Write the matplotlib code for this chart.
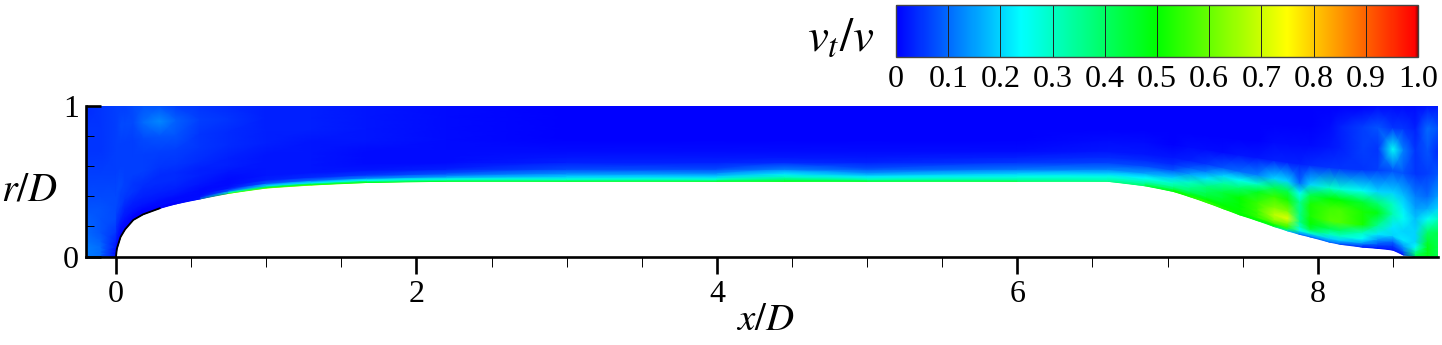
import numpy as np
import matplotlib
matplotlib.use('Agg')
import matplotlib.pyplot as plt
from matplotlib.colors import LinearSegmentedColormap, Normalize
from matplotlib.cm import ScalarMappable

plt.rcParams['font.family'] = ['Liberation Serif', 'DejaVu Serif']
plt.rcParams['mathtext.fontset'] = 'stix'

# wall shape
x_wall = [-0.2, -0.1, 0.0, 0.005, 0.03, 0.06, 0.115, 0.18, 0.29, 0.4, 0.56, 0.75, 1.0, 1.3, 1.67, 2.2, 3.0, 4.0, 4.45, 5.0, 6.0, 6.6,
          6.85, 7.04, 7.15, 7.26, 7.37, 7.48, 7.6, 7.71, 7.8, 7.88, 7.95, 8.08, 8.15, 8.3, 8.4, 8.5, 8.57, 8.65, 8.73, 8.8]
r_wall = [0.0, 0.0, 0.0, 0.05, 0.13, 0.18, 0.243, 0.28, 0.32, 0.35, 0.383, 0.42, 0.455, 0.475, 0.492, 0.5, 0.5, 0.5, 0.5, 0.5, 0.5, 0.5,
          0.47, 0.432, 0.397, 0.359, 0.318, 0.277, 0.238, 0.199, 0.17, 0.147, 0.13, 0.095, 0.081, 0.062, 0.054, 0.043, 0.01, 0.0, 0.0, 0.0]
# fraction of the way from wall to r/D = 1
eta = [0, 0.01, 0.03, 0.06, 0.1, 0.16, 0.25, 0.32, 0.4, 0.55, 0.7, 0.85, 1.0]

# vt/v, one row per x_wall station, wall to top
vt = [
    [.12, .12, .12, .12, .11, .10, .09, .08, .07, .06, .05, .05, .04],
    [.10, .10, .10, .10, .09, .08, .08, .08, .07, .06, .05, .05, .05],
    [.01, .01, .01, .02, .03, .05, .07, .07, .07, .06, .06, .06, .06],
    [.00, .00, .01, .02, .03, .04, .06, .07, .07, .06, .06, .06, .06],
    [.00, .00, .01, .01, .02, .04, .06, .06, .07, .06, .06, .07, .06],
    [.00, .00, .01, .01, .02, .03, .05, .06, .06, .06, .06, .07, .06],
    [.00, .00, .00, .01, .02, .03, .05, .05, .06, .06, .06, .07, .07],
    [.00, .00, .00, .01, .02, .03, .04, .05, .06, .06, .07, .10, .08],
    [.00, .00, .01, .01, .02, .03, .04, .04, .05, .06, .08, .13, .08],
    [.00, .00, .01, .01, .02, .03, .04, .04, .05, .06, .08, .09, .06],
    [.02, .02, .01, .01, .01, .02, .03, .03, .04, .05, .05, .06, .05],
    [.55, .30, .08, .02, .01, .01, .02, .03, .03, .04, .04, .05, .04],
    [.60, .45, .20, .08, .03, .02, .02, .02, .02, .03, .03, .03, .03],
    [.60, .45, .22, .10, .04, .02, .02, .02, .02, .02, .03, .03, .03],
    [.50, .42, .25, .12, .05, .02, .01, .01, .01, .02, .02, .02, .02],
    [.45, .38, .27, .15, .08, .03, .01, .01, .01, .01, .01, .01, .01],
    [.45, .38, .28, .20, .14, .07, .03, .02, .01, .00, .00, .00, .00],
    [.45, .38, .28, .20, .14, .07, .03, .02, .01, .00, .00, .00, .00],
    [.48, .45, .38, .30, .22, .12, .04, .02, .01, .00, .00, .00, .00],
    [.45, .40, .30, .22, .15, .08, .03, .02, .01, .00, .00, .00, .00],
    [.42, .38, .32, .27, .20, .11, .05, .03, .01, .00, .00, .00, .00],
    [.35, .32, .30, .27, .20, .12, .06, .04, .02, .01, .00, .00, .00],
    [.40, .40, .35, .30, .24, .15, .07, .04, .02, .01, .00, .00, .00],
    [.50, .50, .42, .35, .30, .20, .08, .04, .02, .00, .00, .00, .00],
    [.52, .52, .46, .40, .36, .30, .15, .08, .03, .01, .00, .00, .00],
    [.55, .55, .50, .45, .42, .38, .22, .12, .05, .01, .00, .00, .00],
    [.52, .52, .50, .48, .46, .44, .33, .20, .08, .01, .00, .00, .00],
    [.50, .50, .50, .50, .50, .50, .38, .25, .10, .02, .00, .00, .00],
    [.48, .50, .55, .55, .56, .55, .47, .30, .12, .02, .00, .00, .00],
    [.45, .50, .58, .65, .68, .62, .55, .42, .20, .03, .01, .00, .00],
    [.20, .40, .55, .62, .72, .62, .52, .42, .20, .03, .01, .00, .00],
    [.10, .15, .25, .30, .36, .36, .35, .25, .10, .03, .01, .00, .00],
    [.10, .15, .30, .45, .50, .52, .52, .42, .20, .04, .01, .00, .00],
    [.10, .14, .20, .30, .42, .58, .56, .50, .30, .05, .02, .01, .00],
    [.08, .12, .20, .30, .40, .58, .57, .50, .28, .05, .03, .03, .00],
    [.03, .06, .15, .24, .30, .52, .52, .45, .25, .05, .06, .06, .00],
    [.02, .04, .08, .14, .22, .35, .48, .38, .20, .06, .05, .08, .01],
    [.02, .03, .05, .10, .20, .22, .32, .30, .20, .08, .25, .05, .01],
    [.02, .05, .10, .15, .22, .20, .25, .22, .18, .08, .12, .05, .01],
    [.40, .40, .35, .25, .20, .20, .18, .15, .12, .05, .05, .03, .01],
    [.48, .48, .48, .48, .45, .40, .25, .16, .10, .06, .08, .10, .02],
    [.42, .42, .42, .42, .42, .42, .30, .20, .15, .08, .04, .08, .02],
]

x_major = [0, 2, 4, 6, 8]
x_minor = [0.5, 1, 1.5, 2.5, 3, 3.5, 4.5, 5, 5.5, 6.5, 7, 7.5, 8.5]
r_major = [0, 1]
r_minor = [0.2, 0.4, 0.6, 0.8]
bar_ticks = [0, 0.1, 0.2, 0.3, 0.4, 0.5, 0.6, 0.7, 0.8, 0.9, 1.0]
bar_labels = ['0', '0.1', '0.2', '0.3', '0.4', '0.5', '0.6', '0.7', '0.8', '0.9', '1.0']

W, H = 1442, 345
cmap = LinearSegmentedColormap.from_list('rainbow_small', [
    (0, '#0000ff'), (0.24, '#00ffff'), (0.5, '#00ff00'), (0.75, '#ffff00'), (0.995, '#ff0000'), (1, '#a00000')], N=512)
norm = Normalize(0, 1)

fig = plt.figure(figsize=(W / 100, H / 100), dpi=100)
ax = fig.add_axes([86 / W, 1 - 256.5 / H, (1438 - 86) / W, 150.5 / H])

xw = np.array(x_wall)
rw = np.array(r_wall)
e = np.array(eta)
X = np.repeat(xw[:, None], len(e), axis=1)
R = rw[:, None] + e[None, :] * (1 - rw[:, None])
ax.pcolormesh(X, R, np.array(vt), cmap=cmap, norm=norm, shading='gouraud', rasterized=True)
ax.plot(xw[2:9], rw[2:9], color='k', lw=1.3)

ax.set_xlim(-0.2, 8.8)
ax.set_ylim(0, 1)
ax.spines['top'].set_visible(False)
ax.spines['right'].set_visible(False)
ax.spines['left'].set_linewidth(1.9)
ax.spines['bottom'].set_linewidth(1.9)
ax.set_xticks(x_major)
ax.set_xticks(x_minor, minor=True)
ax.set_yticks(r_major)
ax.set_yticks(r_minor, minor=True)
ax.tick_params(axis='x', which='major', direction='out', length=12, width=1.9, labelsize=23, pad=5)
ax.tick_params(axis='x', which='minor', direction='out', length=7.5, width=0.7)
ax.tick_params(axis='y', which='major', direction='in', length=11, width=1.9, labelsize=23, pad=5)
ax.tick_params(axis='y', which='minor', direction='in', length=6, width=0.7)
fig.text(765 / W, 1 - 321 / H, '$x/D$', fontsize=28, ha='center', va='center')
fig.text(30 / W, 1 - 191 / H, '$r/D$', fontsize=29, ha='center', va='center')

cax = fig.add_axes([896 / W, 1 - 57 / H, (1418 - 896) / W, 52 / H])
cb = fig.colorbar(ScalarMappable(norm=norm, cmap=cmap), cax=cax, orientation='horizontal')
cb.set_ticks(bar_ticks, labels=bar_labels)
cb.outline.set_edgecolor('#444444')
cb.outline.set_linewidth(1.0)
cax.tick_params(axis='x', length=0, labelsize=23, pad=6)
for t in bar_ticks:
    cax.axvline(t, color='#222222', lw=0.7)
fig.text(841 / W, 1 - 39 / H, r'$v_t/v$', fontsize=34, ha='center', va='center')

fig.savefig('out.png', dpi=100)
